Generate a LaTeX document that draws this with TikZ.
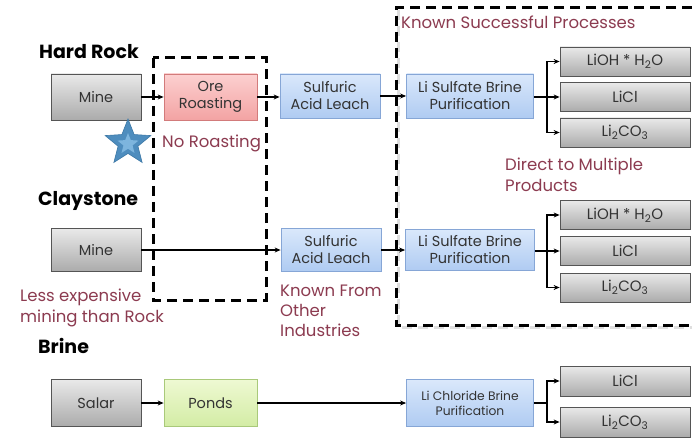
\documentclass[tikz,border=0pt]{standalone}
\usepackage{fontspec}
\setmainfont{Poppins}
\usetikzlibrary{shapes.geometric,arrows.meta}
\definecolor{annot}{HTML}{8C3B50}
\definecolor{txt}{HTML}{333333}
\definecolor{gtop}{HTML}{E9E9E9}\definecolor{gbot}{HTML}{ABABAB}\definecolor{gdr}{HTML}{555555}
\definecolor{ptop}{HTML}{FCD0D0}\definecolor{pbot}{HTML}{F3A3A3}\definecolor{pdr}{HTML}{D27B7B}
\definecolor{btop}{HTML}{DAE8FB}\definecolor{bbot}{HTML}{AFCBF2}\definecolor{bdr}{HTML}{86A6D6}
\definecolor{ntop}{HTML}{EEF9D3}\definecolor{nbot}{HTML}{D3ECA4}\definecolor{ndr}{HTML}{A9C97A}
\definecolor{starc}{HTML}{4E8DBE}\definecolor{starin}{HTML}{7DB5DE}\definecolor{stard}{HTML}{3C78A6}
\tikzset{
  box/.style={draw, line width=0.8pt, align=center, inner sep=1pt, text=txt,
    font=\fontsize{14.5}{17}\selectfont},
  graybox/.style={box, top color=gtop, bottom color=gbot, draw=gdr},
  pinkbox/.style={box, top color=ptop, bottom color=pbot, draw=pdr},
  bluebox/.style={box, top color=btop, bottom color=bbot, draw=bdr},
  greenbox/.style={box, top color=ntop, bottom color=nbot, draw=ndr},
  prod/.style={graybox, minimum width=130pt, minimum height=29pt, font=\fontsize{15}{17}\selectfont},
  arr/.style={line width=1.6pt, -{Stealth[length=6pt,width=5pt]}},
  ln/.style={line width=1.6pt},
  dashbox/.style={line width=3pt, dash pattern=on 10pt off 6pt},
  annottext/.style={text=annot, font=\fontsize{16.5}{21}\selectfont, align=left, inner sep=0pt},
  head/.style={font=\bfseries\fontsize{19}{22}\selectfont, inner sep=0pt},
}
\begin{document}
\begin{tikzpicture}[x=1pt,y=-1pt]
\useasboundingbox (0,0) rectangle (692,438);
\fill[white] (0,0) rectangle (692,438);

% dashed regions
\draw[dashbox] (153,58) rectangle (266,300);
\draw[dashbox, gray!25] (398.5,10.5) -- (398.5,327.5) -- (692,327.5);
\draw[dashbox] (692,8) -- (396,8) -- (396,325) -- (692,325);

% headings
\node[head, anchor=west] (hr) at (39,52) {Hard Rock};
\node[head, anchor=west] (cs) at (38,201) {Claystone};
\node[head, anchor=west] (br) at (38,346) {Brine};

% Hard rock row
\node[graybox, minimum width=90pt, minimum height=46pt] (mine1) at (96,97) {Mine};
\node[pinkbox, minimum width=93pt, minimum height=46pt] (ore) at (210.5,97) {Ore\\Roasting};
\node[bluebox, minimum width=100pt, minimum height=44pt] (leach1) at (330,96) {Sulfuric\\Acid Leach};
\node[bluebox, minimum width=127pt, minimum height=44pt] (lis1) at (470,96) {Li Sulfate Brine\\Purification};
\node[prod] (p1a) at (625,61.5) {LiOH * H\textsubscript{2}O};
\node[prod] (p1b) at (625,97) {LiCl};
\node[prod] (p1c) at (625,132.5) {Li\textsubscript{2}CO\textsubscript{3}};
\coordinate (j1) at (547,97);

\draw[arr] (mine1.east) -- (ore.west);
\draw[arr] (ore.east) -- (ore.east -| leach1.west);
\draw[arr] (leach1.east) -- (lis1.west);
\draw[ln] (lis1.east |- j1) -- (j1);
\draw[arr] (j1) |- (p1a.west);
\draw[arr] (j1) -- (p1b.west);
\draw[arr] (j1) |- (p1c.west);

\node[star, star points=5, star point ratio=2.3, minimum size=48pt, inner sep=0pt,
      fill=starc, draw=stard, line width=0.6pt] (star) at (128,143) {};
\node[star, star points=5, star point ratio=2.3, minimum size=22pt, inner sep=0pt,
      fill=starin] (starinner) at (128,144) {};

\node[annottext, anchor=west] (noroast) at (162,143) {No Roasting};
\node[annottext, anchor=north west] (direct) at (505,158) {Direct to Multiple\\Products};
\node[annottext, anchor=west] (known) at (401,22) {Known Successful Processes};

% Claystone row
\node[graybox, minimum width=90pt, minimum height=43pt] (mine2) at (96,250) {Mine};
\node[bluebox, minimum width=100pt, minimum height=43pt] (leach2) at (331,250) {Sulfuric\\Acid Leach};
\node[bluebox, minimum width=129pt, minimum height=41pt] (lis2) at (470,250) {Li Sulfate Brine\\Purification};
\node[prod] (p2a) at (625,215) {LiOH * H\textsubscript{2}O};
\node[prod] (p2b) at (625,251) {LiCl};
\node[prod] (p2c) at (625,287.5) {Li\textsubscript{2}CO\textsubscript{3}};
\coordinate (j2) at (547,251);

\draw[arr] (mine2.east) -- (leach2.west);
\draw[arr] (leach2.east) -- (lis2.west);
\draw[ln] (lis2.east |- j2) -- (j2);
\draw[arr] (j2) |- (p2a.west);
\draw[arr] (j2) -- (p2b.west);
\draw[arr] (j2) |- (p2c.west);

\node[annottext, anchor=north west] (less) at (20,289) {Less expensive\\mining than Rock};
\node[annottext, anchor=north west, font=\fontsize{16.5}{20}\selectfont] (kfo) at (280,285) {Known From\\Other\\Industries};

% Brine row
\node[graybox, minimum width=90pt, minimum height=47pt] (salar) at (96,403) {Salar};
\node[greenbox, minimum width=93pt, minimum height=47pt] (ponds) at (210.5,403) {Ponds};
\node[bluebox, minimum width=127pt, minimum height=47pt, font=\fontsize{12.3}{15}\selectfont] (lic) at (470,403) {Li Chloride Brine\\Purification};
\node[prod, minimum height=30pt] (p3a) at (625,381) {LiCl};
\node[prod, minimum height=30pt] (p3b) at (625,422) {Li\textsubscript{2}CO\textsubscript{3}};
\coordinate (j3) at (547,403);

\draw[arr] (salar.east) -- (ponds.west);
\draw[arr] (ponds.east) -- (lic.west);
\draw[ln] (lic.east) -- (j3);
\draw[arr] (j3) |- (p3a.west);
\draw[arr] (j3) |- (p3b.west);
\end{tikzpicture}
\end{document}
